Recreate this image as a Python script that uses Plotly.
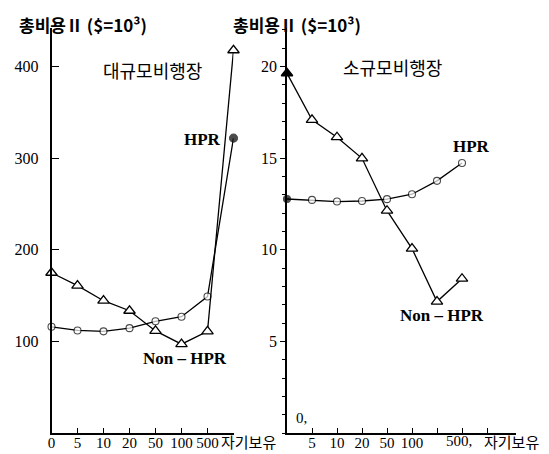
import plotly.graph_objects as go

W, H = 549, 454

# ---- data ----
categories = ["0", "5", "10", "20", "50", "100", "500", "자기보유"]
large_hpr = [116, 112, 111, 114.5, 122, 127, 149, 322]
large_non_hpr = [175, 161, 144.5, 133.5, 111.5, 97, 111, 418]
small_hpr = [12.77, 12.72, 12.63, 12.66, 12.76, 13.03, 13.76, 14.73]
small_non_hpr = [19.63, 17.09, 16.14, 14.99, 12.13, 10.06, 7.17, 8.42]

left_yticks = [100, 200, 300, 400]
right_yticks = [5, 10, 15, 20]
left_xlabels = ["0", "5", "10", "20", "50", "100", "500", ""]
right_xlabels = ["5", "10", "20", "50", "100", "", "", ""]

SERIF = "Liberation Serif"
CJK = "Noto Sans CJK KR"


def px(x):
    return x / W


def py(y):
    return 1 - y / H


xs = list(range(len(categories)))

fig = go.Figure()

line = dict(color="black", width=1.3)

# left panel
fig.add_trace(go.Scatter(
    x=xs, y=large_hpr, mode="lines+markers", xaxis="x", yaxis="y",
    line=line, cliponaxis=False,
    marker=dict(symbol="circle", size=[7] * 7 + [8],
                color=["white"] * 7 + ["black"],
                line=dict(color="black", width=1.1)),
    name="HPR", showlegend=False))
fig.add_trace(go.Scatter(
    x=xs, y=large_non_hpr, mode="lines+markers", xaxis="x", yaxis="y",
    line=line, cliponaxis=False,
    marker=dict(symbol="triangle-up", size=10, color="white",
                line=dict(color="black", width=1.3)),
    name="Non-HPR", showlegend=False))

# right panel
fig.add_trace(go.Scatter(
    x=xs, y=small_hpr, mode="lines+markers", xaxis="x2", yaxis="y2",
    line=line, cliponaxis=False,
    marker=dict(symbol="circle", size=[7] * 8,
                color=["black"] + ["white"] * 7,
                line=dict(color="black", width=1.1)),
    name="HPR", showlegend=False))
fig.add_trace(go.Scatter(
    x=xs, y=small_non_hpr, mode="lines+markers", xaxis="x2", yaxis="y2",
    line=line, cliponaxis=False,
    marker=dict(symbol="triangle-up", size=10,
                color=["black"] + ["white"] * 7,
                line=dict(color="black", width=1.3)),
    name="Non-HPR", showlegend=False))

ydom = [py(433), py(28)]
tickfont = dict(family=SERIF, size=15, color="black")

common = dict(automargin=False, showgrid=False, zeroline=False,
              tickcolor="black", tickwidth=1.3)

fig.update_layout(
    width=W, height=H,
    margin=dict(l=0, r=0, t=0, b=0, autoexpand=False),
    paper_bgcolor="white", plot_bgcolor="rgba(0,0,0,0)",
    xaxis=dict(domain=[px(51.5), px(233.5)], range=[0, 7], anchor="y",
               showline=True, linecolor="black", linewidth=1.6,
               tickvals=xs, ticktext=left_xlabels, ticks="inside",
               ticklen=5, tickangle=0, tickfont=tickfont,
               ticklabelstandoff=-5, **common),
    yaxis=dict(domain=ydom, range=[0, 442.3], anchor="x",
               showline=True, linecolor="black", linewidth=1.6,
               tickvals=left_yticks, ticks="inside", ticklen=8,
               tickfont=dict(family=SERIF, size=16, color="black"),
               ticklabelstandoff=8, **common),
    xaxis2=dict(domain=[px(287), px(516)], range=[0, 9.16], anchor="y2",
                showline=True, linecolor="black", linewidth=1.6,
                tickvals=[1, 2, 3, 4, 5, 6, 7, 8], ticktext=right_xlabels,
                ticks="inside", ticklen=5, tickangle=0, tickfont=tickfont,
                ticklabelstandoff=-5, **common),
    yaxis2=dict(domain=ydom, range=[0, 22.1], anchor="x2",
                showline=True, linecolor="black", linewidth=1.6,
                tickvals=right_yticks, ticks="outside", ticklen=5,
                tickfont=dict(family=SERIF, size=16, color="black"),
                minor=dict(dtick=1, tick0=0, ticks="outside", ticklen=3,
                           tickwidth=1.2, tickcolor="black", showgrid=False),
                **common),
    yaxis3=dict(domain=ydom, range=[0, 22.1], anchor="x2", overlaying="y2",
                showline=False, tickvals=right_yticks, ticks="inside",
                ticklen=5, showticklabels=False,
                minor=dict(dtick=1, tick0=0, ticks="inside", ticklen=3,
                           tickwidth=1.2, tickcolor="black", showgrid=False),
                **common),
    yaxis4=dict(domain=ydom, range=[0, 22.1], anchor="x2", overlaying="y2",
                side="right", showline=True, linecolor="black", linewidth=1.6,
                tickvals=[15, 20], ticks="inside", ticklen=7,
                showticklabels=False, **common),
)

title_text = "<b>총비용Ⅱ ($=10³)</b>"
ann = [
    dict(x=px(83), y=py(25), text=title_text,
         font=dict(family=CJK, size=17, color="black")),
    dict(x=px(297), y=py(25), text=title_text,
         font=dict(family=CJK, size=17, color="black")),
    dict(x=px(152), y=py(70), text="대규모비행장",
         font=dict(family=CJK, size=18, color="black")),
    dict(x=px(392), y=py(67), text="소규모비행장",
         font=dict(family=CJK, size=18, color="black")),
    dict(x=px(202), y=py(140), text="<b>HPR</b>",
         font=dict(family=SERIF, size=17, color="black")),
    dict(x=px(185), y=py(358), text="<b>Non – HPR</b>",
         font=dict(family=SERIF, size=17, color="black")),
    dict(x=px(471), y=py(147), text="<b>HPR</b>",
         font=dict(family=SERIF, size=17, color="black")),
    dict(x=px(442), y=py(315), text="<b>Non – HPR</b>",
         font=dict(family=SERIF, size=17, color="black")),
    dict(x=px(301), y=py(418), text="0,",
         font=dict(family=SERIF, size=15, color="black")),
    dict(x=px(248), y=py(441), text="자기보유",
         font=dict(family=CJK, size=15, color="black")),
    dict(x=px(459), y=py(441), text="500,",
         font=dict(family=SERIF, size=15, color="black")),
    dict(x=px(511), y=py(441), text="자기보유",
         font=dict(family=CJK, size=15, color="black")),
]
for a in ann:
    a.update(xref="paper", yref="paper", showarrow=False,
             xanchor="center", yanchor="middle")
fig.update_layout(annotations=ann)

fig.write_html(
    "out.html",
    config={"displayModeBar": False},
    post_script="document.body.style.margin='0';"
                "document.body.style.padding='0';",
)
